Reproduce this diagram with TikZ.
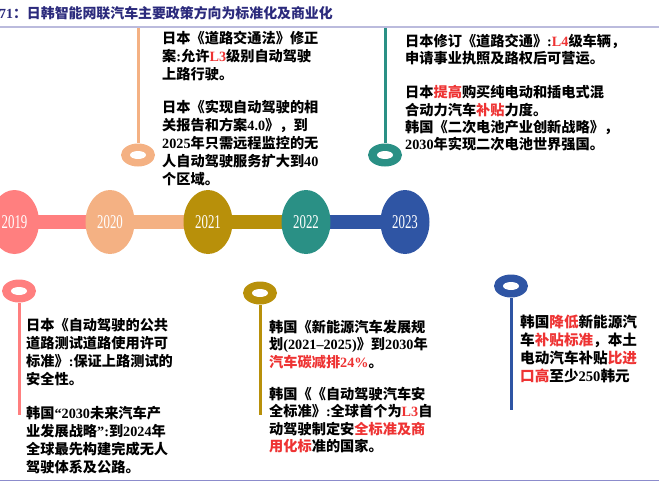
\documentclass[tikz,border=0pt]{standalone}
\usepackage{fontspec}
\setmainfont{Noto Sans CJK SC}
\newfontfamily\latfont{Liberation Serif}
\newfontfamily\yearfont[FakeStretch=0.66]{Liberation Serif}
\usetikzlibrary{shapes.geometric,backgrounds}
\definecolor{cpink}{HTML}{FF7F7F}
\definecolor{corange}{HTML}{F4B183}
\definecolor{cgold}{HTML}{B8900A}
\definecolor{cteal}{HTML}{2A9085}
\definecolor{cblue}{HTML}{2F55A4}
\definecolor{cred}{HTML}{EE3333}
\definecolor{ctitle}{HTML}{2B2A7C}
\definecolor{ctopline}{HTML}{BBBBDD}
\definecolor{cbotline}{HTML}{8C8CCC}
\newcommand{\redtx}[1]{\textcolor{cred}{#1}}
\newcommand{\lt}[1]{{\latfont\bfseries #1}}
\tikzset{
  yearnode/.style={ellipse, minimum width=49pt, minimum height=64pt, inner sep=0pt, text=white, font=\yearfont\fontsize{19.5}{19.5}\selectfont},
  ringo/.style={ellipse, minimum width=34pt, minimum height=23pt, inner sep=0pt},
  hole/.style={ellipse, fill=white, minimum width=16pt, minimum height=8pt, inner sep=0pt},
  txt/.style={anchor=north west, inner sep=0pt, align=left, text=black, font=\bfseries\fontsize{14.2}{18}\selectfont},
  pin/.style={line width=3pt},
  bar/.style={line width=14pt}
}
\begin{document}
\begin{tikzpicture}[x=1pt,y=-1pt]
\useasboundingbox (0,0) rectangle (659,482);
% title
\node[anchor=west, inner sep=0pt, text=ctitle, font=\bfseries\fontsize{13.9}{14}\selectfont] (title) at (-1,13) {\lt{71}：日韩智能网联汽车主要政策方向为标准化及商业化};
\coordinate (tl1) at (0,27); \coordinate (tl2) at (659,27);
\draw[ctopline, line width=1.5pt] (tl1) -- (tl2);
\coordinate (bl1) at (0,480.5); \coordinate (bl2) at (659,480.5);
\draw[cbotline, line width=1.5pt] (bl1) -- (bl2);

% year circles
\node[yearnode, fill=cpink] (y2019) at (14.5,222) {2019};
\node[yearnode, fill=corange] (y2020) at (110,222) {2020};
\node[yearnode, fill=cgold] (y2021) at (208,222) {2021};
\node[yearnode, fill=cteal] (y2022) at (306,222) {2022};
\node[yearnode, fill=cblue] (y2023) at (405,222) {2023};
\begin{scope}[on background layer]
\draw[bar, cpink] (y2019.center) -- (y2020.center);
\draw[bar, corange] (y2020.center) -- (y2021.center);
\draw[bar, cgold] (y2021.center) -- (y2022.center);
\draw[bar, cblue] (y2022.center) -- (y2023.center);
\end{scope}

% upper pins
\node[ringo, fill=corange] (r2020) at (138,155) {};
\node[hole] (h2020) at (r2020) {};
\coordinate (t2020) at (138,28);
\draw[pin, corange] (t2020) -- (r2020.north);
\node[ringo, fill=cteal] (r2022) at (385,155) {};
\node[hole] (h2022) at (r2022) {};
\coordinate (t2022) at (385,28);
\draw[pin, cteal] (t2022) -- (r2022.north);

% lower pins
\node[ringo, fill=cpink] (r2019) at (19,291) {};
\node[hole] (h2019) at (r2019) {};
\coordinate (b2019) at (19,415);
\draw[pin, cpink] (r2019.south) -- (b2019);
\node[ringo, fill=cgold] (r2021) at (260,293) {};
\node[hole] (h2021) at (r2021) {};
\coordinate (b2021) at (260,415);
\draw[pin, cgold] (r2021.south) -- (b2021);
\node[ringo, fill=cblue] (r2023) at (511,286) {};
\node[hole] (h2023) at (r2023) {};
\coordinate (b2023) at (511,410);
\draw[pin, cblue] (r2023.south) -- (b2023);

% text blocks
\node[txt] (t20) at (162,31) {日本《道路交通法》修正\\
案\lt{:}允许\redtx{\lt{L3}}级别自动驾驶\\
上路行驶。\\[15pt]
日本《实现自动驾驶的相\\
关报告和方案\lt{4.0}》，到\\
\lt{2025}年只需远程监控的无\\
人自动驾驶服务扩大到\lt{40}\\
个区域。};

\node[txt, font=\bfseries\fontsize{14.2}{17.2}\selectfont] (t22) at (405,34) {日本修订《道路交通》\lt{:}\redtx{\lt{L4}}级车辆，\\
申请事业执照及路权后可营运。\\[17pt]
日本\redtx{提高}购买纯电动和插电式混\\
合动力汽车\redtx{补贴}力度。\\
韩国《二次电池产业创新战略》，\\
\lt{2030}年实现二次电池世界强国。};

\node[txt] (t19) at (26,318) {日本《自动驾驶的公共\\
道路测试道路使用许可\\
标准》\lt{:}保证上路测试的\\
安全性。\\[16pt]
韩国\lt{“2030}未来汽车产\\
业发展战略\lt{”:}到\lt{2024}年\\
全球最先构建完成无人\\
驾驶体系及公路。};

\node[txt, font=\bfseries\fontsize{14.2}{17.3}\selectfont] (t21) at (269,320) {韩国《新能源汽车发展规\\
划\lt{(2021–2025)}》到\lt{2030}年\\
\redtx{汽车碳减排\lt{24\%}}。\\[15pt]
韩国《《自动驾驶汽车安\\
全标准》\lt{:}全球首个为\redtx{\lt{L3}}自\\
动驾驶制定安\redtx{全标准及商}\\
\redtx{用化标}准的国家。};

\node[txt, font=\bfseries\fontsize{14.6}{18}\selectfont] (t23) at (520,315) {韩国\redtx{降低}新能源汽\\
车\redtx{补贴标准}，本土\\
电动汽车补贴\redtx{比进}\\
\redtx{口高}至少\lt{250}韩元};
\end{tikzpicture}
\end{document}
